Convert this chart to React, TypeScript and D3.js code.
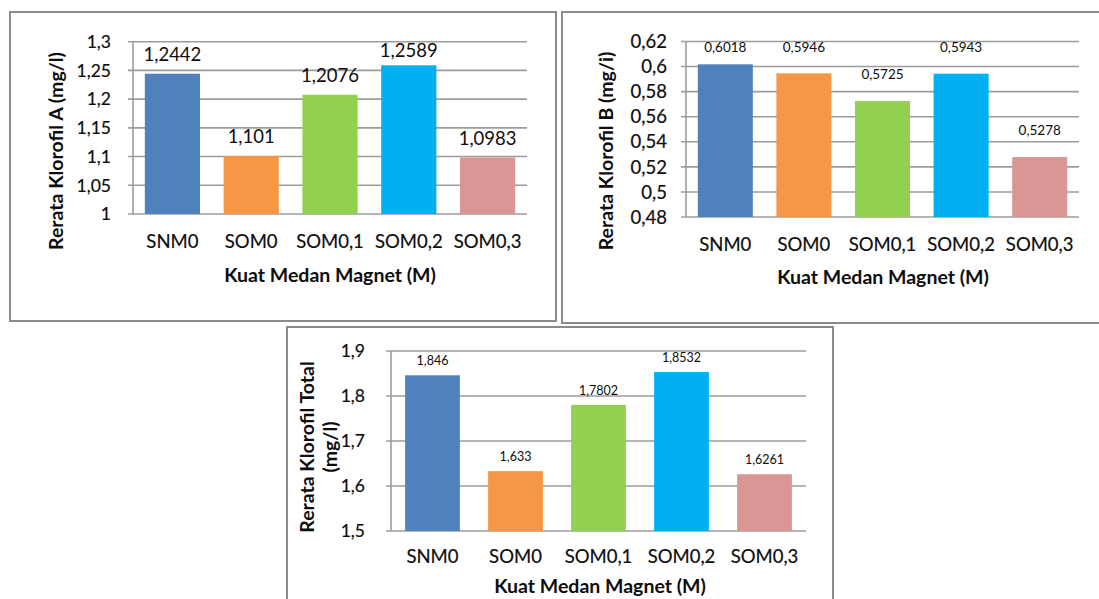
import React from 'react';
import * as d3 from 'd3';

const categories = ['SNM0', 'SOM0', 'SOM0,1', 'SOM0,2', 'SOM0,3'];
const klorofilA = [1.2442, 1.101, 1.2076, 1.2589, 1.0983];
const klorofilB = [0.6018, 0.5946, 0.5725, 0.5943, 0.5278];
const klorofilTotal = [1.846, 1.633, 1.7802, 1.8532, 1.6261];
const ticksA = [1, 1.05, 1.1, 1.15, 1.2, 1.25, 1.3];
const ticksB = [0.48, 0.5, 0.52, 0.54, 0.56, 0.58, 0.6, 0.62];
const ticksTotal = [1.5, 1.6, 1.7, 1.8, 1.9];
const barColors = ['#4f81bd', '#f79646', '#92d050', '#00b0f0', '#d99694'];
const xTitle = 'Kuat Medan Magnet (M)';

const FONT = 'Lato, "Open Sans", sans-serif';
const GRID = '#9c9c9c';
const INK = '#0d0d0d';

// indonesian decimal comma
const fmt = (v: number) => String(+v.toFixed(4)).replace('.', ',');

interface PanelProps {
  frame: { x: number; y: number; w: number; h: number };
  plot: { left: number; right: number; top: number; bottom: number };
  values: number[];
  ticks: number[];
  yTitle: string[];
  yTitleX: number[];
  yTitleY: number;
  xTitleX: number;
  xTitleY: number;
  tickFont: number;
  tickGap: number;
  valueFont: number;
  valueGap: number;
  catDy: number;
  padInner: number;
}

const Panel: React.FC<PanelProps> = (p) => {
  const { plot } = p;
  const x = d3.scaleBand<string>()
    .domain(categories)
    .range([plot.left, plot.right])
    .paddingInner(p.padInner)
    .paddingOuter(p.padInner / 2);
  const y = d3.scaleLinear()
    .domain(d3.extent(p.ticks) as [number, number])
    .range([plot.bottom, plot.top]);

  return (
    <g>
      <rect x={p.frame.x} y={p.frame.y} width={p.frame.w} height={p.frame.h}
        fill="#fff" stroke="#8a8a8a" strokeWidth={2} />

      {/* gridlines + ticks */}
      {p.ticks.map((t) => (
        <g key={t}>
          <line x1={plot.left - 5} x2={plot.right} y1={y(t)} y2={y(t)} stroke={GRID} strokeWidth={1.6} />
          <text x={plot.left - p.tickGap} y={y(t)} dy="0.36em" textAnchor="end"
            fontSize={p.tickFont} fill={INK} stroke={INK} strokeWidth={0.2}>{fmt(t)}</text>
        </g>
      ))}
      <line x1={plot.left} x2={plot.left} y1={plot.top} y2={plot.bottom} stroke={GRID} strokeWidth={1.6} />

      {/* bars */}
      {p.values.map((v, i) => (
        <rect key={categories[i]} x={x(categories[i])} y={y(v)} width={x.bandwidth()}
          height={plot.bottom - y(v)} fill={barColors[i]} />
      ))}

      {/* value labels */}
      {p.values.map((v, i) => (
        <text key={'v' + i} x={(x(categories[i]) || 0) + x.bandwidth() / 2}
          y={Math.max(y(v) - p.valueGap, plot.top + p.valueFont * 0.8)}
          textAnchor="middle" fontSize={p.valueFont} fill={INK}>{fmt(v)}</text>
      ))}

      {/* category labels */}
      {categories.map((c) => (
        <text key={c} x={(x(c) || 0) + x.bandwidth() / 2} y={plot.bottom + p.catDy}
          textAnchor="middle" fontSize={18.5} fill={INK} stroke={INK} strokeWidth={0.2}>{c}</text>
      ))}

      <text x={p.xTitleX} y={p.xTitleY} textAnchor="middle" fontSize={19.5}
        fontWeight="bold" fill={INK}>{xTitle}</text>

      {p.yTitle.map((line, i) => (
        <text key={line} transform={`translate(${p.yTitleX[i]},${p.yTitleY}) rotate(-90)`}
          textAnchor="middle" fontSize={19.5} fontWeight="bold" fill={INK}>{line}</text>
      ))}
    </g>
  );
};

export default function App() {
  return (
    <div style={{ position: 'fixed', left: 0, top: 0 }}>
      <svg width={1099} height={599} style={{ display: 'block', fontFamily: FONT, background: '#fff' }}>
        <Panel
          frame={{ x: 10, y: 12, w: 546, h: 309 }}
          plot={{ left: 133, right: 527, top: 41.7, bottom: 214 }}
          values={klorofilA} ticks={ticksA}
          yTitle={['Rerata Klorofil A (mg/l)']} yTitleX={[63]} yTitleY={151}
          xTitleX={330} xTitleY={282}
          tickFont={17.5} tickGap={22} valueFont={18.5} valueGap={13} catDy={34} padInner={0.3}
        />
        <Panel
          frame={{ x: 562, y: 12, w: 560, h: 311 }}
          plot={{ left: 686, right: 1079, top: 41.5, bottom: 217 }}
          values={klorofilB} ticks={ticksB}
          yTitle={['Rerata Klorofil B (mg/i)']} yTitleX={[613]} yTitleY={151}
          xTitleX={883} xTitleY={284}
          tickFont={18.5} tickGap={19} valueFont={13.5} valueGap={22} catDy={34} padInner={0.3}
        />
        <Panel
          frame={{ x: 287, y: 327, w: 546, h: 300 }}
          plot={{ left: 391, right: 806, top: 351, bottom: 531 }}
          values={klorofilTotal} ticks={ticksTotal}
          yTitle={['Rerata Klorofil Total', '(mg/l)']} yTitleX={[314, 337]} yTitleY={447}
          xTitleX={600} xTitleY={593}
          tickFont={17.5} tickGap={26} valueFont={12.5} valueGap={10} catDy={32} padInner={0.34}
        />
      </svg>
    </div>
  );
}
